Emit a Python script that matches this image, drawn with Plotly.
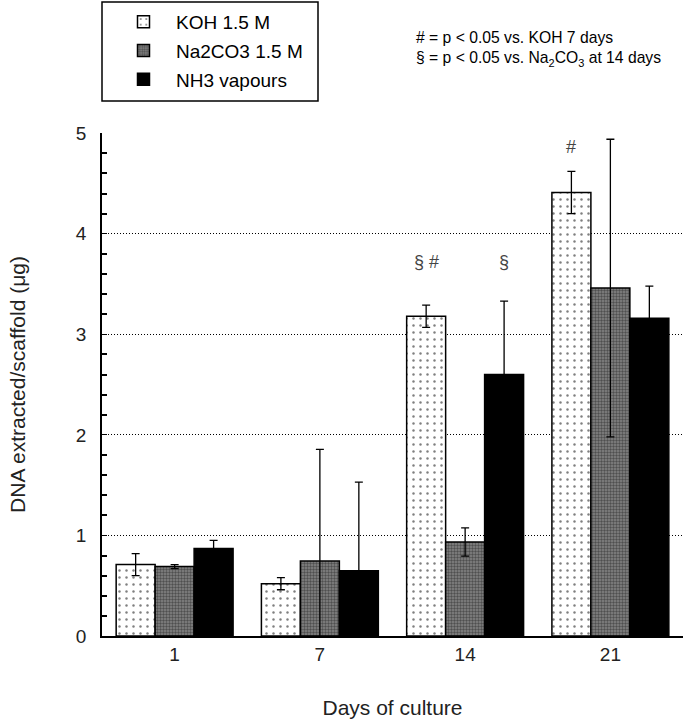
import plotly.graph_objects as go

days = ["1", "7", "14", "21"]
series_names = ["KOH 1.5 M", "Na2CO3 1.5 M", "NH3 vapours"]
koh = [0.71, 0.52, 3.18, 4.41]
koh_err = [0.11, 0.06, 0.11, 0.21]
na2co3 = [0.69, 0.745, 0.935, 3.46]
na2co3_err = [0.02, 1.11, 0.14, 1.48]
nh3 = [0.87, 0.65, 2.60, 3.16]
nh3_err = [0.08, 0.88, 0.73, 0.32]

# significance marks: (series index, day index, text, y)
sig_marks = [(0, 2, "§ #", 3.72), (2, 2, "§", 3.72), (0, 3, "#", 4.86)]

FONT = "Liberation Sans, Arial, sans-serif"

patterns = [
    dict(shape=".", fgcolor="black", bgcolor="white", size=7, solidity=0.1, fillmode="overlay"),
    dict(shape=".", fgcolor="#1a1a1a", bgcolor="#858585", size=3, solidity=0.5, fillmode="overlay"),
    None,
]
colors = ["white", "#858585", "black"]
values = [koh, na2co3, nh3]
errors = [koh_err, na2co3_err, nh3_err]

fig = go.Figure()
for i in range(3):
    marker = dict(color=colors[i], line=dict(color="black", width=1.5))
    if patterns[i]:
        marker["pattern"] = patterns[i]
    fig.add_trace(go.Bar(
        x=days, y=values[i], name=series_names[i], marker=marker,
        legendgroup=series_names[i],
        error_y=dict(type="data", array=errors[i], visible=True,
                     color="black", thickness=1.3, width=4),
    ))

bargap = 0.195
bw = (1 - bargap) / 3
for s, d, txt, yv in sig_marks:
    fig.add_annotation(x=d + (s - 1) * bw, y=yv, text=txt, showarrow=False,
                       xref="x", yref="y",
                       font=dict(family=FONT, size=18, color="#444"))

fig.add_annotation(xref="paper", yref="paper", x=0.537, y=(636 - 49) / 503, xanchor="left",
                   yanchor="middle", showarrow=False, align="left",
                   text="# = p < 0.05 vs. KOH 7 days<br>§ = p < 0.05 vs. Na<sub>2</sub>CO<sub>3</sub> at 14 days",
                   font=dict(family=FONT, size=15.7, color="black"))

# legend frame
fig.add_shape(type="rect", xref="paper", yref="paper",
              x0=0.0, x1=216 / 581, y0=(636 - 101) / 503, y1=(636 - 2) / 503,
              line=dict(color="black", width=1.5), fillcolor="rgba(0,0,0,0)")

fig.update_layout(
    width=685, height=723,
    margin=dict(l=102, r=2, t=133, b=87, autoexpand=False),
    paper_bgcolor="white", plot_bgcolor="white",
    barmode="group", bargap=bargap, bargroupgap=0,
    font=dict(family=FONT, size=16, color="#222"),
    showlegend=True,
    legend=dict(x=9 / 581, y=(636 - 3) / 503, xanchor="left", yanchor="top",
                borderwidth=0, bgcolor="rgba(0,0,0,0)",
                font=dict(family=FONT, size=19, color="black"),
                tracegroupgap=1, itemwidth=55),
    xaxis=dict(
        type="category", range=[-0.5, 3.5], showline=True, linecolor="black",
        linewidth=1.5, ticks="", showgrid=False,
        title=dict(text="Days of culture", standoff=37,
                   font=dict(family=FONT, size=21, color="#222")),
        tickfont=dict(family=FONT, size=19, color="#222"),
    ),
    yaxis=dict(
        range=[0, 5.002], dtick=1, showline=True, linecolor="black", linewidth=1.5,
        ticks="inside", ticklen=5, tickcolor="black", ticklabelstandoff=10,
        minor=dict(dtick=0.2, ticks="inside", ticklen=5, tickcolor="black",
                   tickwidth=1.5, showgrid=False),
        showgrid=True, gridcolor="black", griddash="1px,2px", gridwidth=1,
        zeroline=False,
        title=dict(text="DNA extracted/scaffold (μg)", standoff=45,
                   font=dict(family=FONT, size=21, color="#222")),
        tickfont=dict(family=FONT, size=19, color="#222"),
    ),
)

fig.write_html("out.html", config={"displayModeBar": False},
               post_script="document.body.style.margin='0';")
